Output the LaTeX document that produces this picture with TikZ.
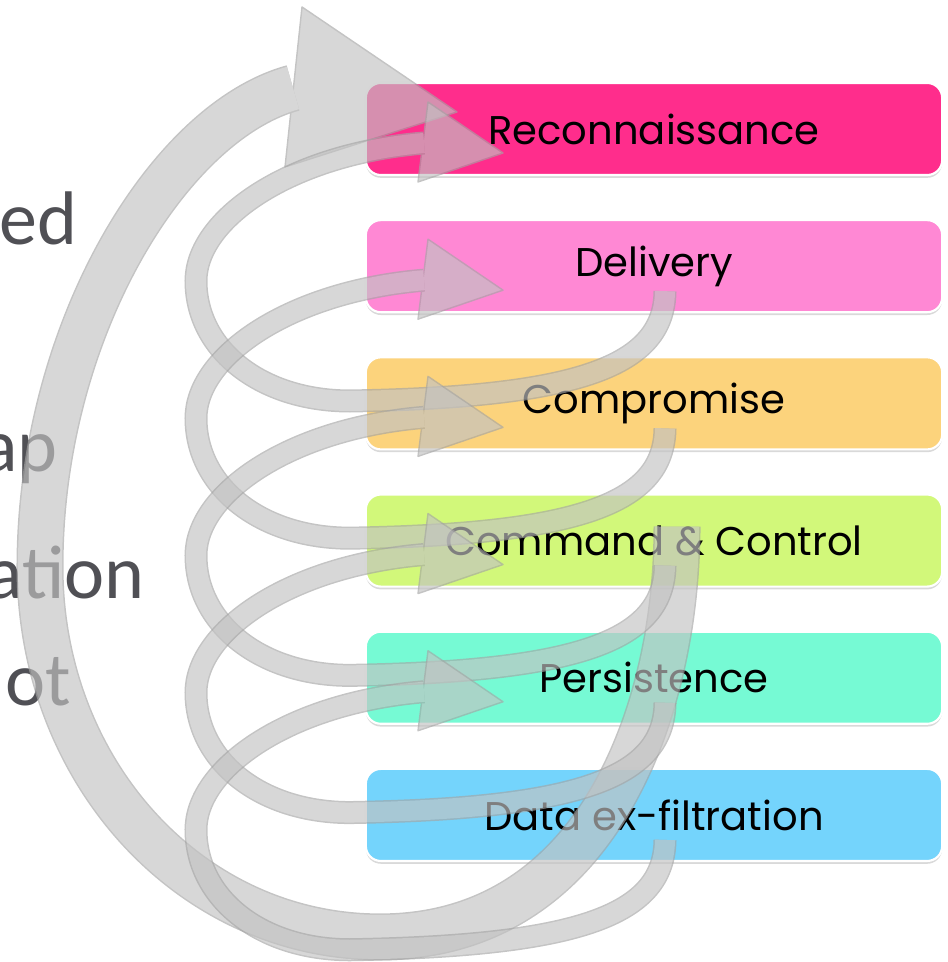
\documentclass[tikz,border=0pt]{standalone}
\usepackage{fontspec}
\newfontfamily\boxfont{Poppins}
\newfontfamily\slidefont{Carlito}
\usetikzlibrary{calc, positioning, shadows}

\definecolor{recfill}{RGB}{255,45,140}
\definecolor{dlvfill}{RGB}{255,136,212}
\definecolor{cmpfill}{RGB}{252,211,124}
\definecolor{cncfill}{RGB}{210,248,122}
\definecolor{perfill}{RGB}{118,250,212}
\definecolor{exffill}{RGB}{116,212,252}
\definecolor{bandfill}{RGB}{194,194,194}
\definecolor{bandedge}{RGB}{165,165,165}
\definecolor{slidetext}{RGB}{80,80,85}

\begin{document}
\begin{tikzpicture}[x=0.01cm, y=-0.01cm,
    stage/.style={rectangle, rounded corners=1.5mm, draw=white, line width=0.6pt,
      minimum width=5.76cm, minimum height=0.92cm, inner sep=0pt,
      font=\boxfont\fontsize{11.4}{14}\selectfont,
      drop shadow={shadow xshift=0pt, shadow yshift=-0.8pt, opacity=0.3}},
    slide/.style={anchor=base east, inner sep=0pt, text=slidetext,
      font=\slidefont\fontsize{21.6}{26}\selectfont},
    loopband/.style={draw=bandfill, line width=2mm,
      preaction={draw=bandedge, line width=2.3mm}},
    bigband/.style={draw=bandfill, line width=4.4mm,
      preaction={draw=bandedge, line width=4.7mm}},
    headshape/.style={fill=bandfill, draw=bandedge, line width=0.4pt, line join=round}
]
\useasboundingbox (0,0) rectangle (947,962);

% cut-off slide text on the left
\node[slide] (ed) at (78,245) {ed};
\node[slide] (ap) at (58,472) {ap};
\node[slide] (ation) at (145,598) {ation};
\node[slide] (ot) at (72,705) {ot};

% Stages
\node[stage, fill=recfill] (rec) at (654,129) {Reconnaissance};
\node[stage, fill=dlvfill, below=0.43cm of rec] (dlv) {Delivery};
\node[stage, fill=cmpfill, below=0.43cm of dlv] (cmp) {Compromise};
\node[stage, fill=cncfill, below=0.43cm of cmp] (cnc) {Command \& Control};
\node[stage, fill=perfill, below=0.43cm of cnc] (per) {Persistence};
\node[stage, fill=exffill, below=0.43cm of per] (exf) {Data ex-filtration};

% Big arrow from C&C back round to the start
\begin{scope}[transparency group, opacity=0.66]
  \coordinate (bt) at ($(cnc.center)+(23,-14)$);
  \coordinate (bb) at ($(exf.center)+(-274,122)$);
  \coordinate (bl) at ($(cnc.center)+(-614,26)$);
  \coordinate (bh) at ($(rec.center)+(-361,-41)$);
  \filldraw[headshape] ($(rec.center)+(-352,-122)$) -- ($(rec.center)+(-197,-17)$)
    -- ($(rec.center)+(-369,38)$) -- cycle;
  \draw[bigband] (bt) .. controls +(0,180) and +(220,0) .. (bb)
    .. controls +(-190,0) and +(0,205) .. (bl)
    .. controls +(0,-235) and +(-125,34) .. (bh);
\end{scope}

% Loops: each stage back to the one above
\foreach \hd/\tl in {rec/dlv, dlv/cmp, cmp/cnc, cnc/per, per/exf}{
  \begin{scope}[transparency group, opacity=0.66]
    \coordinate (lt) at ($(\tl.center)+(11,25)$);
    \coordinate (lb) at ($(\hd.center)+(-304,272)$);
    \coordinate (ll) at ($(\hd.center)+(-458,152)$);
    \coordinate (lh) at ($(\hd.center)+(-230,14)$);
    \filldraw[headshape] ($(\hd.center)+(-226,-27)$) -- ($(\hd.center)+(-151,24)$)
      -- ($(\hd.center)+(-236,53)$) -- cycle;
    \draw[loopband] (lt) .. controls +(-1,75) and +(230,-4) .. (lb)
      .. controls +(-90,0) and +(0,68) .. (ll)
      .. controls +(0,-62) and +(-134,11) .. (lh);
  \end{scope}
}
\end{tikzpicture}
\end{document}
